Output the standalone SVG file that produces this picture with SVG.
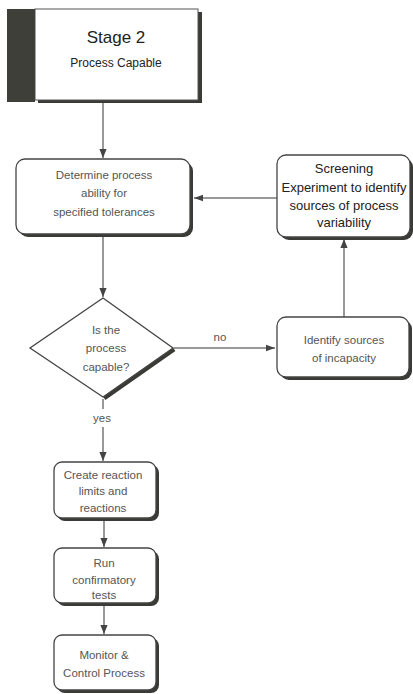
<svg xmlns="http://www.w3.org/2000/svg" width="413" height="694" viewBox="0 0 413 694">
<style>
.box{fill:#fff;stroke:#444;stroke-width:1.3}
.shadow{fill:#3a3a36}
.t{font-family:"Liberation Sans",Arial,sans-serif;text-anchor:middle;fill:#555}
.s{font-size:11.5px}
.dark{fill:#222}
.ln{stroke:#777;stroke-width:1.5;fill:none}
</style>
<defs>
<marker id="ah" viewBox="0 0 10 10" refX="10" refY="5" markerWidth="9" markerHeight="9" markerUnits="userSpaceOnUse" orient="auto">
<path d="M0,1 L10,5 L0,9 Z" fill="#444"/>
</marker>
<marker id="ahw" viewBox="0 0 10 10" refX="10" refY="5" markerWidth="12" markerHeight="9" markerUnits="userSpaceOnUse" orient="auto">
<path d="M0,1.5 L10,5 L0,8.5 Z" fill="#444"/>
</marker>
</defs>
<rect width="413" height="694" fill="#fff"/>

<g id="connectors">
<line class="ln" x1="103" y1="102" x2="103" y2="158" marker-end="url(#ah)"/>
<line class="ln" x1="277" y1="198" x2="194" y2="198" marker-end="url(#ahw)"/>
<rect x="188" y="195" width="4" height="17" fill="#3a3a36"/>
<line class="ln" x1="103" y1="236" x2="103" y2="297" marker-end="url(#ah)"/>
<line class="ln" x1="174" y1="348" x2="275" y2="348" marker-end="url(#ahw)"/>
<text class="t s" x="220" y="341">no</text>
<line class="ln" x1="344" y1="317" x2="344" y2="239" marker-end="url(#ah)"/>
<line class="ln" x1="103" y1="399" x2="103" y2="409"/>
<text class="t s" x="102" y="422">yes</text>
<line class="ln" x1="103" y1="427" x2="103" y2="461" marker-end="url(#ah)"/>
<line class="ln" x1="104" y1="520" x2="104" y2="547" marker-end="url(#ah)"/>
<line class="ln" x1="104" y1="605" x2="104" y2="634" marker-end="url(#ah)"/>
</g>

<g id="stage2">
<rect x="38" y="12" width="164" height="91" class="shadow"/>
<rect x="35" y="9" width="163" height="91" fill="#fff" stroke="#555" stroke-width="1"/>
<rect x="7" y="9" width="28" height="93" fill="#3f3f3a"/>
<text class="t dark" x="116" y="43" style="font-size:17px">Stage 2</text>
<text class="t dark" x="116" y="67" style="font-size:12px">Process Capable</text>
</g>

<g id="determine">
<rect x="19" y="162" width="174" height="75" rx="9" class="shadow"/>
<rect x="16" y="159" width="174" height="75" rx="9" class="box"/>
<text class="t s" x="104" y="179">Determine process</text>
<text class="t s" x="104" y="197">ability for</text>
<text class="t s" x="104" y="216">specified tolerances</text>
</g>

<g id="screening">
<rect x="280" y="158" width="133" height="82" rx="9" class="shadow"/>
<rect x="277" y="155" width="133" height="82" rx="9" class="box"/>
<text class="t dark" x="344" y="173" style="font-size:13px">Screening</text>
<text class="t dark" x="344" y="192" style="font-size:13px">Experiment to identify</text>
<text class="t dark" x="344" y="210" style="font-size:13px">sources of process</text>
<text class="t dark" x="344" y="227" style="font-size:13px">variability</text>
</g>

<g id="decision">
<path d="M173,348 L103,397" stroke="#3a3a36" stroke-width="5" fill="none" transform="translate(1,1)"/>
<path d="M103,298 L173,348 L103,397 L30,348 Z" class="box"/>
<text class="t s" x="106" y="334">Is the</text>
<text class="t s" x="106" y="352">process</text>
<text class="t s" x="106" y="371">capable?</text>
</g>

<g id="identify">
<rect x="280" y="320" width="132" height="60" rx="9" class="shadow"/>
<rect x="277" y="317" width="132" height="60" rx="9" class="box"/>
<text class="t s" x="344" y="344">Identify sources</text>
<text class="t s" x="344" y="362">of incapacity</text>
</g>

<g id="create">
<rect x="57" y="465" width="102" height="56" rx="8" class="shadow"/>
<rect x="54" y="462" width="102" height="56" rx="8" class="box"/>
<text class="t s" x="103" y="479">Create reaction</text>
<text class="t s" x="103" y="495">limits and</text>
<text class="t s" x="103" y="512">reactions</text>
</g>

<g id="run">
<rect x="57" y="551" width="102" height="55" rx="8" class="shadow"/>
<rect x="54" y="548" width="102" height="55" rx="8" class="box"/>
<text class="t s" x="104" y="567">Run</text>
<text class="t s" x="104" y="584">confirmatory</text>
<text class="t s" x="104" y="599">tests</text>
</g>

<g id="monitor">
<rect x="57" y="638" width="102" height="55" rx="8" class="shadow"/>
<rect x="54" y="635" width="102" height="55" rx="8" class="box"/>
<text class="t s" x="104" y="659">Monitor &amp;</text>
<text class="t s" x="104" y="677">Control Process</text>
</g>
</svg>
